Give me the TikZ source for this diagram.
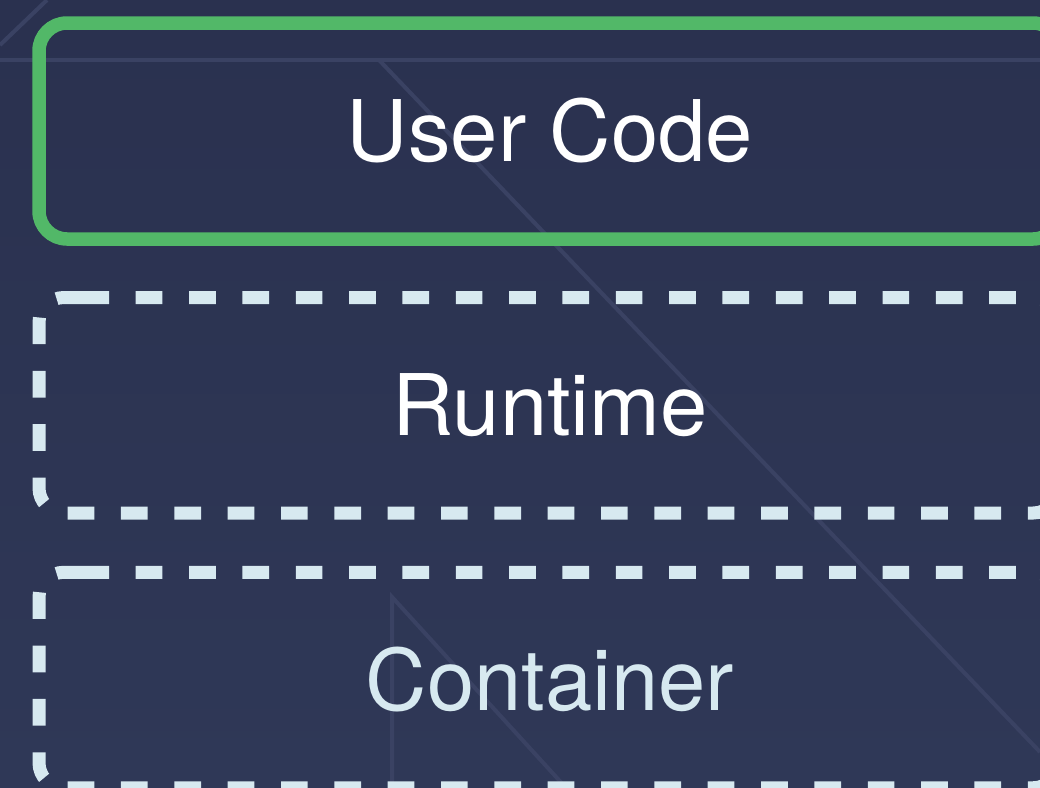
\documentclass[tikz,border=0pt]{standalone}
\usepackage{fontspec}
\setmainfont{TeX Gyre Heros}
\definecolor{bgtop}{HTML}{2A314F}
\definecolor{bgbot}{HTML}{2F3857}
\definecolor{bgline}{HTML}{3A4263}
\definecolor{layergreen}{HTML}{52B868}
\definecolor{layerblue}{HTML}{D7E9F0}
\tikzset{
  layer/.style={minimum width=1022pt, inner sep=0pt, outer sep=0pt,
    text height=61pt, text depth=-3pt,
    font=\fontsize{85}{85}\selectfont},
  faint/.style={draw=bgline, line width=4pt},
  solidborder/.style={draw=layergreen, line width=13.5pt, rounded corners=28pt},
  dashborder/.style={draw=layerblue, line width=13pt, rounded corners=25pt,
    dash pattern=on 26.67pt off 26.67pt, dash phase=0pt}
}
\begin{document}
\begin{tikzpicture}[x=1pt,y=-1pt]
\useasboundingbox (0,0) rectangle (1040,787);
\clip (0,0) rectangle (1040,787);
\shade[top color=bgtop, bottom color=bgbot] (0,0) rectangle (1040,787);
% faint background lines
\draw[faint] (0,60) -- (1040,60);
\draw[faint] (47,0) -- (0,45);
\draw[faint] (379,60) -- (1040,752);
\draw[faint] (392,790) -- (392,597) -- (568,790);
% layers
\node[layer, minimum height=216pt, text=white] (user) at (550,131) {User Code};
\node[layer, minimum height=215.5pt, text=white] (runtime) at (550,405.25) {Runtime};
\node[layer, minimum height=215.5pt, text=layerblue] (container) at (550,680) {Container};
\draw[solidborder] (user.north) -- (user.north east) -- (user.south east) -- (user.south west) -- (user.north west) -- cycle;
\draw[dashborder] ([xshift=43.4pt]runtime.north west) -- ([xshift=-2.8pt]runtime.north east) -- ([xshift=-2.8pt]runtime.south east) -- (runtime.south west) -- (runtime.north west) -- ([xshift=43.4pt]runtime.north west);
\draw[dashborder] ([xshift=43.4pt]container.north west) -- ([xshift=-2.8pt]container.north east) -- ([xshift=-2.8pt]container.south east) -- (container.south west) -- (container.north west) -- ([xshift=43.4pt]container.north west);
\end{tikzpicture}
\end{document}
